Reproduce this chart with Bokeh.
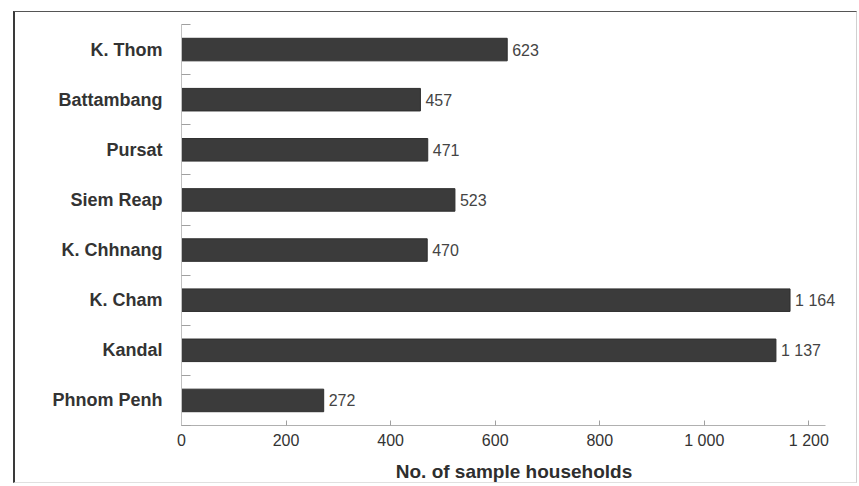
from bokeh.plotting import figure
from bokeh.models import Range1d, FixedTicker, ColumnDataSource
from bokeh.core.properties import value
from bokeh.embed import file_html
from bokeh.resources import INLINE

# Data (bottom to top)
provinces = ["Phnom Penh", "Kandal", "K. Cham", "K. Chhnang",
             "Siem Reap", "Pursat", "Battambang", "K. Thom"]
households = [272, 1137, 1164, 470, 523, 471, 457, 623]
x_ticks = [0, 200, 400, 600, 800, 1000, 1200]
x_tick_labels = ["0", "200", "400", "600", "800", "1 000", "1 200"]

positions = list(range(1, len(provinces) + 1))
value_labels = [f"{v:,}".replace(",", " ") for v in households]

src = ColumnDataSource(dict(y=positions, v=households, lab=value_labels))

FONT = "Liberation Sans"

p = figure(width=844, height=472, output_backend="svg", toolbar_location=None,
           x_range=Range1d(0, 1272), y_range=Range1d(0.5, len(provinces) + 0.5),
           min_border_left=166, min_border_right=13, min_border_top=12,
           min_border_bottom=58)
p.margin = (11, 2, 3, 13)
p.styles = {"border-left": "2px solid #3a3a3a", "border-top": "1px solid #555555",
            "border-right": "1px solid #d0d0d0", "border-bottom": "1px solid #e0e0e0"}
p.outline_line_color = None
p.background_fill_color = "white"
p.border_fill_color = "white"
p.grid.visible = False

p.hbar(y="y", right="v", left=0, height=0.45, source=src,
       fill_color="#3b3b3b", line_color="#2e2e2e", line_width=1)

p.text(x="v", y="y", text="lab", source=src, x_offset=5,
       text_baseline="middle", text_align="left",
       text_font=value(FONT), text_font_size="16px", text_color="#444444")

# X axis
xa = p.xaxis[0]
xa.bounds = (0, 1232)
xa.ticker = FixedTicker(ticks=x_ticks)
xa.major_label_overrides = {t: l for t, l in zip(x_ticks, x_tick_labels)}
xa.major_tick_in = 5
xa.major_tick_out = 0
xa.minor_tick_line_color = None
xa.axis_line_color = "#b0b0b0"
xa.major_tick_line_color = "#a0a0a0"
xa.major_label_text_font = FONT
xa.major_label_text_font_size = "16px"
xa.major_label_text_color = "#333333"
xa.major_label_standoff = 6
xa.axis_label = "No. of sample households"
xa.axis_label_text_font = FONT
xa.axis_label_text_font_style = "bold"
xa.axis_label_text_font_size = "19px"
xa.axis_label_text_color = "#2e2e2e"
xa.axis_label_standoff = 9

# Y axis
ya = p.yaxis[0]
ya.ticker = FixedTicker(ticks=positions,
                        minor_ticks=[y + 0.5 for y in [0] + positions])
ya.major_label_overrides = {y: n for y, n in zip(positions, provinces)}
ya.major_tick_line_color = None
ya.minor_tick_in = 9
ya.minor_tick_out = 0
ya.minor_tick_line_color = "#a0a0a0"
ya.axis_line_color = "#c0c0c0"
ya.major_label_text_font = FONT
ya.major_label_text_font_size = "18px"
ya.major_label_text_font_style = "bold"
ya.major_label_text_color = "#333333"
ya.major_label_standoff = 13

open("out.html", "w").write(file_html(p, INLINE))
